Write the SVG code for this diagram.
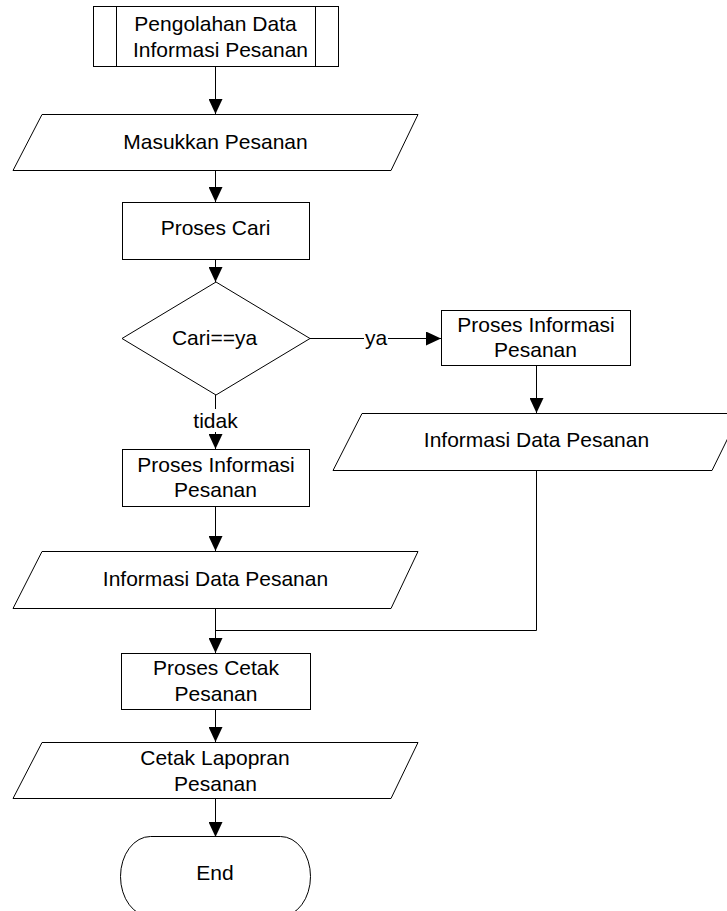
<svg xmlns="http://www.w3.org/2000/svg" width="727" height="911" viewBox="0 0 727 911">
<style>
.s{fill:#fff;stroke:#000;stroke-width:1}
.c{fill:none;stroke:#000;stroke-width:1}
text{font-family:"Liberation Sans",Arial,sans-serif;font-size:21px;fill:#000;text-anchor:middle}
</style>
<defs>
<marker id="ah" markerUnits="userSpaceOnUse" markerWidth="15" markerHeight="14" refX="15" refY="7" orient="auto">
<path d="M0,0 L15,7 L0,14 z" fill="#000"/>
</marker>
</defs>
<rect width="727" height="911" fill="#fff"/>
<g id="connectors">
<line class="c" x1="215.5" y1="66" x2="215.5" y2="114" marker-end="url(#ah)"/>
<line class="c" x1="215.5" y1="170" x2="215.5" y2="202" marker-end="url(#ah)"/>
<line class="c" x1="215.5" y1="259" x2="215.5" y2="282" marker-end="url(#ah)"/>
<line class="c" x1="310" y1="338.5" x2="441" y2="338.5" marker-end="url(#ah)"/>
<rect x="364" y="329" width="24" height="19" fill="#fff"/>
<text x="376" y="345">ya</text>
<line class="c" x1="215.5" y1="395" x2="215.5" y2="409"/>
<text x="215.5" y="428">tidak</text>
<line class="c" x1="215.5" y1="432" x2="215.5" y2="449" marker-end="url(#ah)"/>
<line class="c" x1="536.5" y1="366" x2="536.5" y2="413" marker-end="url(#ah)"/>
<line class="c" x1="215.5" y1="506" x2="215.5" y2="551" marker-end="url(#ah)"/>
<polyline class="c" points="536.5,470 536.5,630.5 215.5,630.5"/>
<line class="c" x1="215.5" y1="608" x2="215.5" y2="653" marker-end="url(#ah)"/>
<line class="c" x1="215.5" y1="709" x2="215.5" y2="742" marker-end="url(#ah)"/>
<line class="c" x1="215.5" y1="798" x2="215.5" y2="837" marker-end="url(#ah)"/>
</g>
<g id="start">
<rect class="s" x="93.5" y="6.5" width="245" height="60"/>
<line class="c" x1="116.5" y1="6.5" x2="116.5" y2="66.5"/>
<line class="c" x1="315.5" y1="6.5" x2="315.5" y2="66.5"/>
<text x="215.5" y="31">Pengolahan Data</text>
<text x="220.5" y="56.5">Informasi Pesanan</text>
</g>
<g id="input">
<polygon class="s" points="42,114.5 418,114.5 391,170.5 13,170.5"/>
<text x="215.5" y="149">Masukkan Pesanan</text>
</g>
<g id="proses-cari">
<rect class="s" x="122.5" y="202.5" width="187" height="57"/>
<text x="215.5" y="235">Proses Cari</text>
</g>
<g id="decision">
<polygon class="s" points="216,282 310,338.5 216,395 122,338.5"/>
<text x="214.5" y="345">Cari==ya</text>
</g>
<g id="proses-info-ya">
<rect class="s" x="441.5" y="310.5" width="189" height="55"/>
<text x="536" y="332">Proses Informasi</text>
<text x="535.5" y="357">Pesanan</text>
</g>
<g id="output-info-ya">
<polygon class="s" points="362,413.5 740,413.5 712,470.5 333,470.5"/>
<text x="536.5" y="447">Informasi Data Pesanan</text>
</g>
<g id="proses-info-tidak">
<rect class="s" x="122.5" y="449.5" width="187" height="57"/>
<text x="216" y="472">Proses Informasi</text>
<text x="215.5" y="497">Pesanan</text>
</g>
<g id="output-info-tidak">
<polygon class="s" points="42,551.5 418,551.5 391,608.5 13,608.5"/>
<text x="215.5" y="586">Informasi Data Pesanan</text>
</g>
<g id="proses-cetak">
<rect class="s" x="121.5" y="653.5" width="189" height="56"/>
<text x="216" y="675">Proses Cetak</text>
<text x="216" y="701">Pesanan</text>
</g>
<g id="cetak-laporan">
<polygon class="s" points="42,742.5 418,742.5 391,798.5 13,798.5"/>
<text x="215" y="765">Cetak Lapopran</text>
<text x="215.5" y="791">Pesanan</text>
</g>
<g id="end">
<rect class="s" x="120.5" y="836.5" width="190" height="80" rx="30" ry="40"/>
<text x="215" y="880">End</text>
</g>
</svg>
